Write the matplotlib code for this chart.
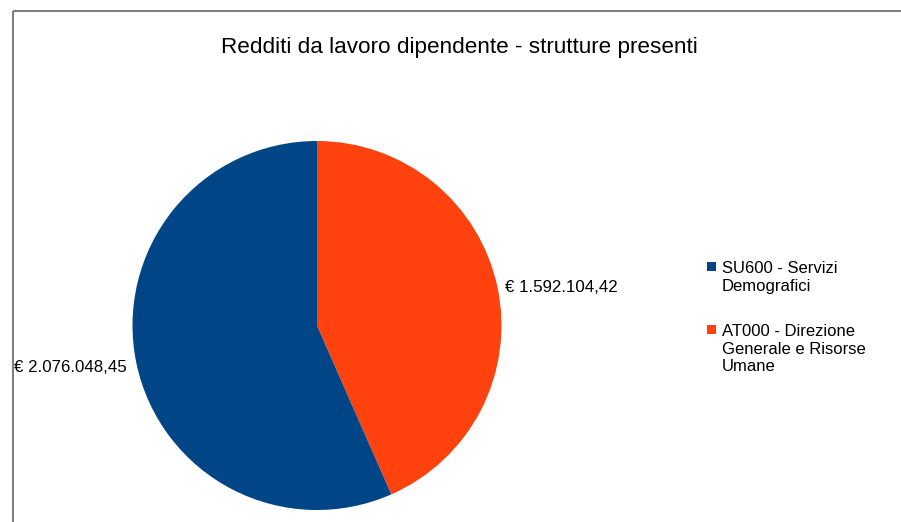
import matplotlib
matplotlib.use("Agg")
import matplotlib.pyplot as plt
from matplotlib.patches import Rectangle

plt.rcParams['font.family'] = ['Liberation Sans', 'DejaVu Sans']

title = "Redditi da lavoro dipendente - strutture presenti"
categories = ["SU600 - Servizi\nDemografici", "AT000 - Direzione\nGenerale e Risorse\nUmane"]
values = [2076048.45, 1592104.42]
colors = ["#004586", "#ff420e"]

def fmt_eur(v):
    s = f"{v:,.2f}"
    s = s.replace(",", "X").replace(".", ",").replace("X", ".")
    return "€ " + s

W, H = 901, 522
fig = plt.figure(figsize=(W / 100, H / 100), dpi=100)
ax = fig.add_axes([0, 0, 1, 1])

def Y(py):
    return H - py

# pie: orange slice first, clockwise from the top
order = [1, 0]
ax.pie([values[i] for i in order], colors=[colors[i] for i in order],
       startangle=90, counterclock=False,
       center=(317, Y(325.5)), radius=184.5, frame=True,
       wedgeprops=dict(linewidth=0))
ax.set_xlim(0, W)
ax.set_ylim(0, H)
ax.set_aspect("auto")
ax.axis("off")

# frame lines
ax.plot([12.5, 12.5], [0, Y(10.5)], color="#808080", lw=1.5, solid_capstyle="butt")
ax.plot([12.5, W], [Y(10.5), Y(10.5)], color="#808080", lw=1.5, solid_capstyle="butt")

ax.text(459, Y(47), title, ha="center", va="center", fontsize=16.2, color="black")

# value labels
ax.text(14, Y(367), fmt_eur(values[0]), ha="left", va="center", fontsize=12.2)
ax.text(505, Y(288), fmt_eur(values[1]), ha="left", va="center", fontsize=12.2)

# legend
leg_y = [262, 325]
for cat, col, y in zip(categories, colors, leg_y):
    ax.add_patch(Rectangle((707, Y(y + 9)), 9, 9, facecolor=col, edgecolor="none"))
    ax.text(722, Y(y - 1), cat, ha="left", va="top", fontsize=12, linespacing=1.22)

fig.savefig("out.png", dpi=100)
